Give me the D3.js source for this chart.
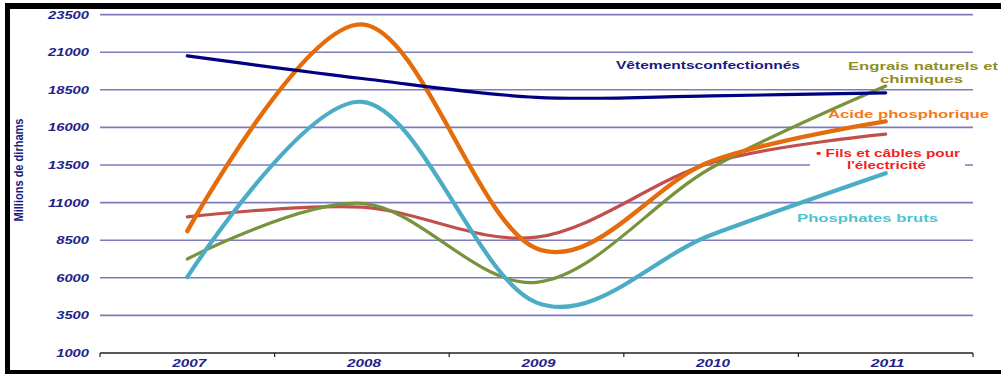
<!DOCTYPE html>
<html><head><meta charset="utf-8">
<script src="https://cdn.jsdelivr.net/npm/d3@7"></script>
<style>body{margin:0;background:#fff;}svg{display:block;}</style>
</head><body>
<svg id="c" width="1001" height="374"></svg>
<script>
const years = ["2007","2008","2009","2010","2011"];
const yTicks = [1000,3500,6000,8500,11000,13500,16000,18500,21000,23500];
const vetements = [20750,19250,18000,18100,18300];
const acide = [9100,22850,7950,13750,16400];
const fils = [10050,10700,8700,13650,15550];
const engrais = [7250,10950,5700,13300,18750];
const phosphates = [6050,17700,4350,8850,12950];

const series = [
  {name:"Fils et câbles pour l'électricité", values:fils, color:"#C0504D", w:3.2},
  {name:"Engrais naturels et chimiques", values:engrais, color:"#77933C", w:3.2},
  {name:"Phosphates bruts", values:phosphates, color:"#4BACC6", w:4.2},
  {name:"Acide phosphorique", values:acide, color:"#E46C0A", w:4.4},
  {name:"Vêtementsconfectionnés", values:vetements, color:"#000080", w:3.2}
];

const svg = d3.select("#c");
const x = d3.scaleBand().domain(years).range([100,973]);
const y = d3.scaleLinear().domain([1000,23500]).range([353,14.6]);

// frame
svg.append("rect").attr("x",5).attr("y",3).attr("width",996).attr("height",6).attr("fill","#000");
svg.append("rect").attr("x",5).attr("y",3).attr("width",5).attr("height",371).attr("fill","#000");
svg.append("rect").attr("x",5).attr("y",370).attr("width",996).attr("height",4).attr("fill","#000");

// gridlines
svg.append("g").selectAll("line").data(yTicks.filter(d=>d>1000)).join("line")
  .attr("x1",100).attr("x2",973).attr("y1",d=>y(d)).attr("y2",d=>y(d))
  .attr("stroke","#7C7CBC").attr("stroke-width",1.6);

// y tick labels
svg.append("g").selectAll("text").data(yTicks).join("text")
  .attr("x",89).attr("y",d=>y(d)+4).attr("text-anchor","end")
  .attr("font-family","Liberation Sans, Arial, sans-serif").attr("font-size",11)
  .attr("font-weight","bold").attr("font-style","italic").attr("fill","#22228A")
  .attr("textLength",d=>String(d).length*8.2).attr("lengthAdjust","spacingAndGlyphs")
  .text(d=>d);

// x axis
const xa = svg.append("g").attr("transform",`translate(0,${y(1000)})`);
xa.append("line").attr("x1",100).attr("x2",973).attr("stroke","#222").attr("stroke-width",1.5);
xa.selectAll("line.tk").data(d3.range(years.length+1)).join("line").attr("class","tk")
  .attr("x1",i=>100+i*x.step()).attr("x2",i=>100+i*x.step()).attr("y1",0).attr("y2",4)
  .attr("stroke","#222").attr("stroke-width",1.2);
svg.append("g").selectAll("text").data(years).join("text")
  .attr("x",d=>x(d)+x.bandwidth()/2+2).attr("y",367).attr("text-anchor","middle")
  .attr("font-family","Liberation Sans, Arial, sans-serif").attr("font-size",10)
  .attr("font-weight","bold").attr("font-style","italic").attr("fill","#22228A")
  .attr("textLength",34).attr("lengthAdjust","spacingAndGlyphs")
  .text(d=>d);

// axis title
svg.append("text").attr("transform","translate(23,170) rotate(-90)")
  .attr("text-anchor","middle").attr("font-family","Liberation Sans Narrow, Arial Narrow, sans-serif")
  .attr("font-size",12.5).attr("font-weight","bold").attr("fill","#1A1A80")
  .attr("textLength",103).attr("lengthAdjust","spacingAndGlyphs")
  .text("Millions de dirhams");

// lines
const line = d3.line().x((d,i)=>x(years[i])+x.bandwidth()/2).y(d=>y(d)).curve(d3.curveCardinal.tension(0));
svg.append("g").selectAll("path").data(series).join("path")
  .attr("d",d=>line(d.values)).attr("fill","none").attr("stroke",d=>d.color)
  .attr("stroke-width",d=>d.w).attr("stroke-linecap","round");

// labels
svg.append("rect").attr("x",810).attr("y",145).attr("width",155).attr("height",26).attr("fill","#fff");
const labels = [
  {t:"Vêtementsconfectionnés", x:616, y:69, w:184, c:"#1A1A80", fs:11},
  {t:"Engrais naturels et", x:848, y:70, w:150, c:"#8E8E22", fs:11},
  {t:"chimiques", x:880, y:83, w:83, c:"#8E8E22", fs:11},
  {t:"Acide phosphorique", x:828, y:118, w:161, c:"#F47A20", fs:11.5},
  {t:"• Fils et câbles pour", x:816, y:157, w:144, c:"#F51E1E", fs:11},
  {t:"l'électricité", x:847, y:169, w:79, c:"#F51E1E", fs:11},
  {t:"Phosphates bruts", x:797, y:222, w:141, c:"#4DC4D0", fs:11.5}
];
svg.append("g").selectAll("text").data(labels).join("text")
  .attr("x",d=>d.x).attr("y",d=>d.y).attr("fill",d=>d.c)
  .attr("font-family","Liberation Sans, Arial, sans-serif").attr("font-weight","bold")
  .attr("font-size",d=>d.fs).attr("textLength",d=>d.w).attr("lengthAdjust","spacingAndGlyphs")
  .text(d=>d.t);
</script>
</body></html>
